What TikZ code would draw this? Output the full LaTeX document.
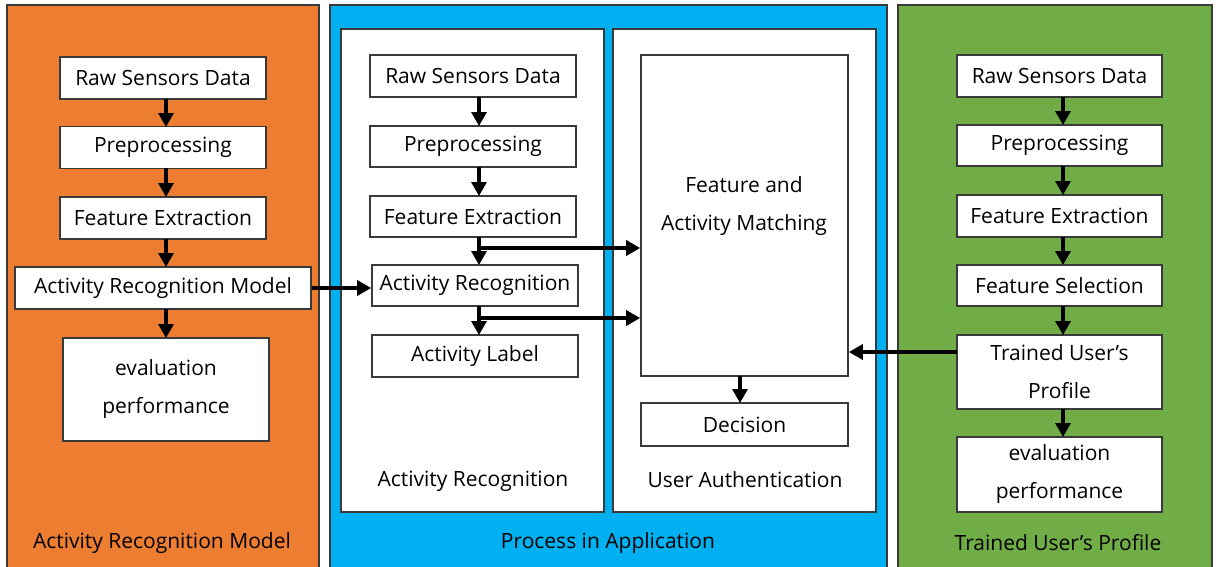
\documentclass[tikz,border=0pt]{standalone}
\usepackage{fontspec}
\setmainfont{Open Sans}
\usetikzlibrary{arrows.meta}
\definecolor{panelorange}{HTML}{ED7D31}
\definecolor{panelblue}{HTML}{00B0F0}
\definecolor{panelgreen}{HTML}{70AD47}
\definecolor{edge}{HTML}{3A3A3A}
\tikzset{
  panel/.style={draw=edge, line width=1.4pt},
  box/.style={draw=edge, fill=white, line width=1.6pt, inner sep=0pt,
    align=center, font=\fontsize{21}{38}\selectfont, text=black},
  captext/.style={font=\fontsize{21}{24}\selectfont, text=black, inner sep=0pt},
  arr/.style={line width=3.2pt, -{Triangle[length=14pt,width=15pt]}},
}
\begin{document}
\begin{tikzpicture}[x=1pt,y=-1pt]
\useasboundingbox (0,0) rectangle (1219,566);
\fill[white] (0,0) rectangle (1219,566);

% three panels
\draw[panel, fill=panelorange] (7,5) rectangle (319,570);
\draw[panel, fill=panelblue] (330,5) rectangle (887,570);
\draw[panel, fill=panelgreen] (898,5) rectangle (1212,570);
\draw[panel, fill=white] (341,29) rectangle (604,512);
\draw[panel, fill=white] (613,29) rectangle (876,512);

% left panel: activity recognition model
\node[box, minimum width=206pt, minimum height=42pt] (o1) at (163,78) {Raw Sensors Data};
\node[box, minimum width=206pt, minimum height=42pt] (o2) at (163,147.5) {Preprocessing};
\node[box, minimum width=206pt, minimum height=42pt] (o3) at (163,218) {Feature Extraction};
\node[box, minimum width=296pt, minimum height=42pt] (o4) at (163,288) {Activity Recognition Model};
\node[box, minimum width=206pt, minimum height=103pt] (o5) at (166,389.5) {evaluation\\performance};
\draw[arr] (166,99) -- (166,127);
\draw[arr] (166,168) -- (166,197);
\draw[arr] (166,239) -- (166,267);
\draw[arr] (166,309) -- (166,338);
\node[captext] (ocap) at (162,543) {Activity Recognition Model};

% middle panel: activity recognition
\node[box, minimum width=206pt, minimum height=42pt] (b1) at (473,76) {Raw Sensors Data};
\node[box, minimum width=206pt, minimum height=41pt] (b2) at (473,146.5) {Preprocessing};
\node[box, minimum width=206pt, minimum height=41pt] (b3) at (473,216.5) {Feature Extraction};
\node[box, minimum width=206pt, minimum height=41pt] (b4) at (475,285.5) {Activity Recognition};
\node[box, minimum width=206pt, minimum height=42pt] (b5) at (475,356) {Activity Label};
\draw[arr] (479,97) -- (479,126);
\draw[arr] (479,167) -- (479,196);
\draw[arr] (479,237) -- (479,265);
\draw[arr] (479,306) -- (479,335);
\node[captext] (bcap) at (473,481) {Activity Recognition};

% middle panel: user authentication
\node[box, minimum width=207pt, minimum height=321pt] (m) at (744.5,215.5) {};
\node[align=center, font=\fontsize{21}{38}\selectfont, text=black] (mt) at (744,206) {Feature and\\Activity Matching};
\node[box, minimum width=207pt, minimum height=43pt] (dec) at (744.5,424.5) {Decision};
\draw[arr] (740,376) -- (740,403);
\node[captext] (ucap) at (745,480) {User Authentication};
\coordinate (j1) at (479,248);
\coordinate (j2) at (479,318);
\draw[arr] (j1) -- (m.west |- j1);
\draw[arr] (j2) -- (m.west |- j2);
\draw[arr] (o4.east) -- (b4.west |- o4.east);
\node[captext] (pcap) at (608,543) {Process in Application};

% right panel: trained user's profile
\node[box, minimum width=205pt, minimum height=42pt] (g1) at (1059.5,76) {Raw Sensors Data};
\node[box, minimum width=205pt, minimum height=41pt] (g2) at (1059.5,145.5) {Preprocessing};
\node[box, minimum width=205pt, minimum height=42pt] (g3) at (1059.5,216) {Feature Extraction};
\node[box, minimum width=205pt, minimum height=41pt] (g4) at (1059.5,285.5) {Feature Selection};
\node[box, minimum width=205pt, minimum height=74pt] (g5) at (1059.5,372) {Trained User’s\\Profile};
\node[box, minimum width=205pt, minimum height=75pt] (g6) at (1059.5,474.5) {evaluation\\performance};
\draw[arr] (1063,97) -- (1063,125);
\draw[arr] (1063,166) -- (1063,195);
\draw[arr] (1063,237) -- (1063,265);
\draw[arr] (1063,306) -- (1063,335);
\draw[arr] (1063,409) -- (1063,437);
\coordinate (t1) at (957,352);
\draw[arr] (t1) -- (m.east |- t1);
\node[captext] (gcap) at (1058,543) {Trained User’s Profile};
\end{tikzpicture}
\end{document}
